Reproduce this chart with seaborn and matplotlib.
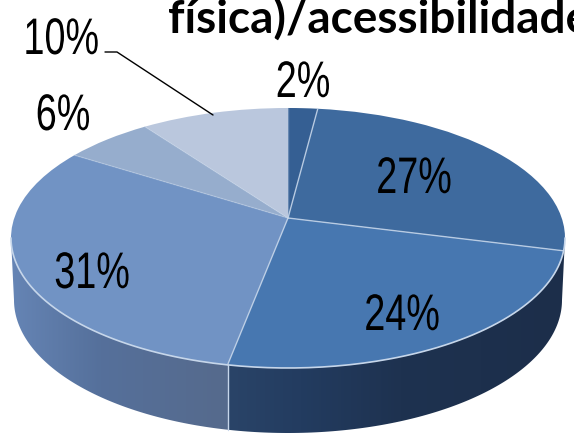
import numpy as np
import matplotlib
matplotlib.use("Agg")
import matplotlib.pyplot as plt
from matplotlib.colors import to_rgb
from matplotlib.patches import Polygon
from matplotlib.patheffects import AbstractPathEffect
from matplotlib.transforms import Affine2D, Transform
import seaborn as sns

values = [2, 27, 24, 31, 6, 10]
top_colors = ["#355F93", "#3E6A9E", "#4777B0", "#7193C4", "#96ADCD", "#BAC7DD"]
title_text = "física)/acessibilidade"

label_x = [303, 414, 402, 92, 63, 61]
label_y = [97, 193, 330, 288, 130, 54]

sns.set_theme(style="white")

W, H = 574, 438
fig = plt.figure(figsize=(W / 100, H / 100), dpi=100)
ax = fig.add_axes([0, 0, 1, 1])

CX, APEX, KX, A, C = 288.0, 218.0, 273.7, -93.4, 0.1538


class Persp(Transform):
    input_dims = output_dims = 2
    is_affine = False
    has_inverse = False

    def transform_non_affine(self, xy):
        xy = np.asarray(xy, float)
        d = 1 + C * xy[:, 1]
        return np.column_stack([CX + KX * xy[:, 0] / d, (APEX + A * xy[:, 1]) / d])


class Squeeze(AbstractPathEffect):
    """Narrow the glyphs of a text horizontally about their own centre."""

    def __init__(self, sx):
        super().__init__()
        self.sx = sx

    def draw_path(self, renderer, gc, tpath, affine, rgbFace=None):
        ext = tpath.get_extents()
        c = (ext.x0 + ext.x1) / 2
        squeeze = Affine2D().translate(-c, 0).scale(self.sx, 1).translate(c, 0)
        renderer.draw_path(gc, tpath, squeeze + affine, rgbFace)


persp = Persp()
palette = sns.color_palette(top_colors)
wedges, _ = ax.pie(values, colors=palette, startangle=90, counterclock=False,
                   radius=1, wedgeprops=dict(linewidth=0))
ax.set_aspect("auto")
ax.set_xlim(0, W)
ax.set_ylim(H, 0)
ax.axis("off")
for w in wedges:
    w.set_transform(persp + ax.transData)
    w.set_clip_on(False)
    w.set_zorder(3)


def rim(deg):
    a = np.radians(deg)
    return persp.transform_non_affine(np.column_stack([np.cos(a), np.sin(a)]))


# side wall
a0 = np.degrees(np.arcsin(C))
front = np.linspace(180 + a0, 360 - a0, 200)
upper = rim(front)
low_a = np.radians(np.linspace(0, 180, 200))
lower = np.column_stack([288 + 274 * np.cos(low_a), 300 + 133 * np.sin(low_a)])
side = Polygon(np.vstack([upper, lower]), closed=True, transform=ax.transData, fc="none", ec="none")
ax.add_patch(side)

cum = np.cumsum(values) / sum(values) * 360
bound_deg = 90 - cum
split_x = rim(np.array([bound_deg[2]]))[0, 0]

xs = np.arange(W)


def ramp(px, stops_x, stops_c):
    cs = np.array([to_rgb(c) for c in stops_c])
    return np.column_stack([np.interp(px, stops_x, cs[:, i]) for i in range(3)])


left = ramp(xs, [14, 100, 228], ["#6584B4", "#55709B", "#566A8C"])
right = ramp(xs, [229, 300, 400, 560], ["#2A4468", "#233C60", "#1E3250", "#1C2E4A"])
grad = np.where((xs < split_x)[:, None], left, right)[None, :, :]
im = ax.imshow(grad, extent=(0, W, H, 0), aspect="auto", zorder=2, interpolation="nearest")
im.set_clip_path(side)
ax.set_xlim(0, W)
ax.set_ylim(H, 0)

# light lines
LINE = "#C6D6EA"
ax.plot(upper[:, 0], upper[:, 1], color=LINE, lw=1.2, zorder=4)
for i, d in enumerate(bound_deg):
    p = rim(np.array([d]))[0]
    alpha = 0.85 if i in (0, 1, 2) else 0.35
    ax.plot([CX, p[0]], [APEX, p[1]], color=LINE, lw=1.0, alpha=alpha, zorder=4)
sp = rim(np.array([bound_deg[2]]))[0]
ax.plot([sp[0], sp[0]], [sp[1], 430], color=LINE, lw=1.0, zorder=4)

# leader line
ax.plot([105, 117, 213], [52, 52, 115], color="black", lw=1.0, zorder=5)

for v, x, y in zip(values, label_x, label_y):
    ax.text(x, y, f"{v}%", family="Liberation Sans", fontsize=37, color="black",
            ha="center", va="baseline", zorder=6, path_effects=[Squeeze(0.735)])

ax.text(168, 33, title_text, family=["Lato", "DejaVu Sans"], fontweight="bold", fontsize=33,
        color="black", ha="left", va="baseline", zorder=6, clip_on=False)

fig.savefig("out.png", dpi=100)
